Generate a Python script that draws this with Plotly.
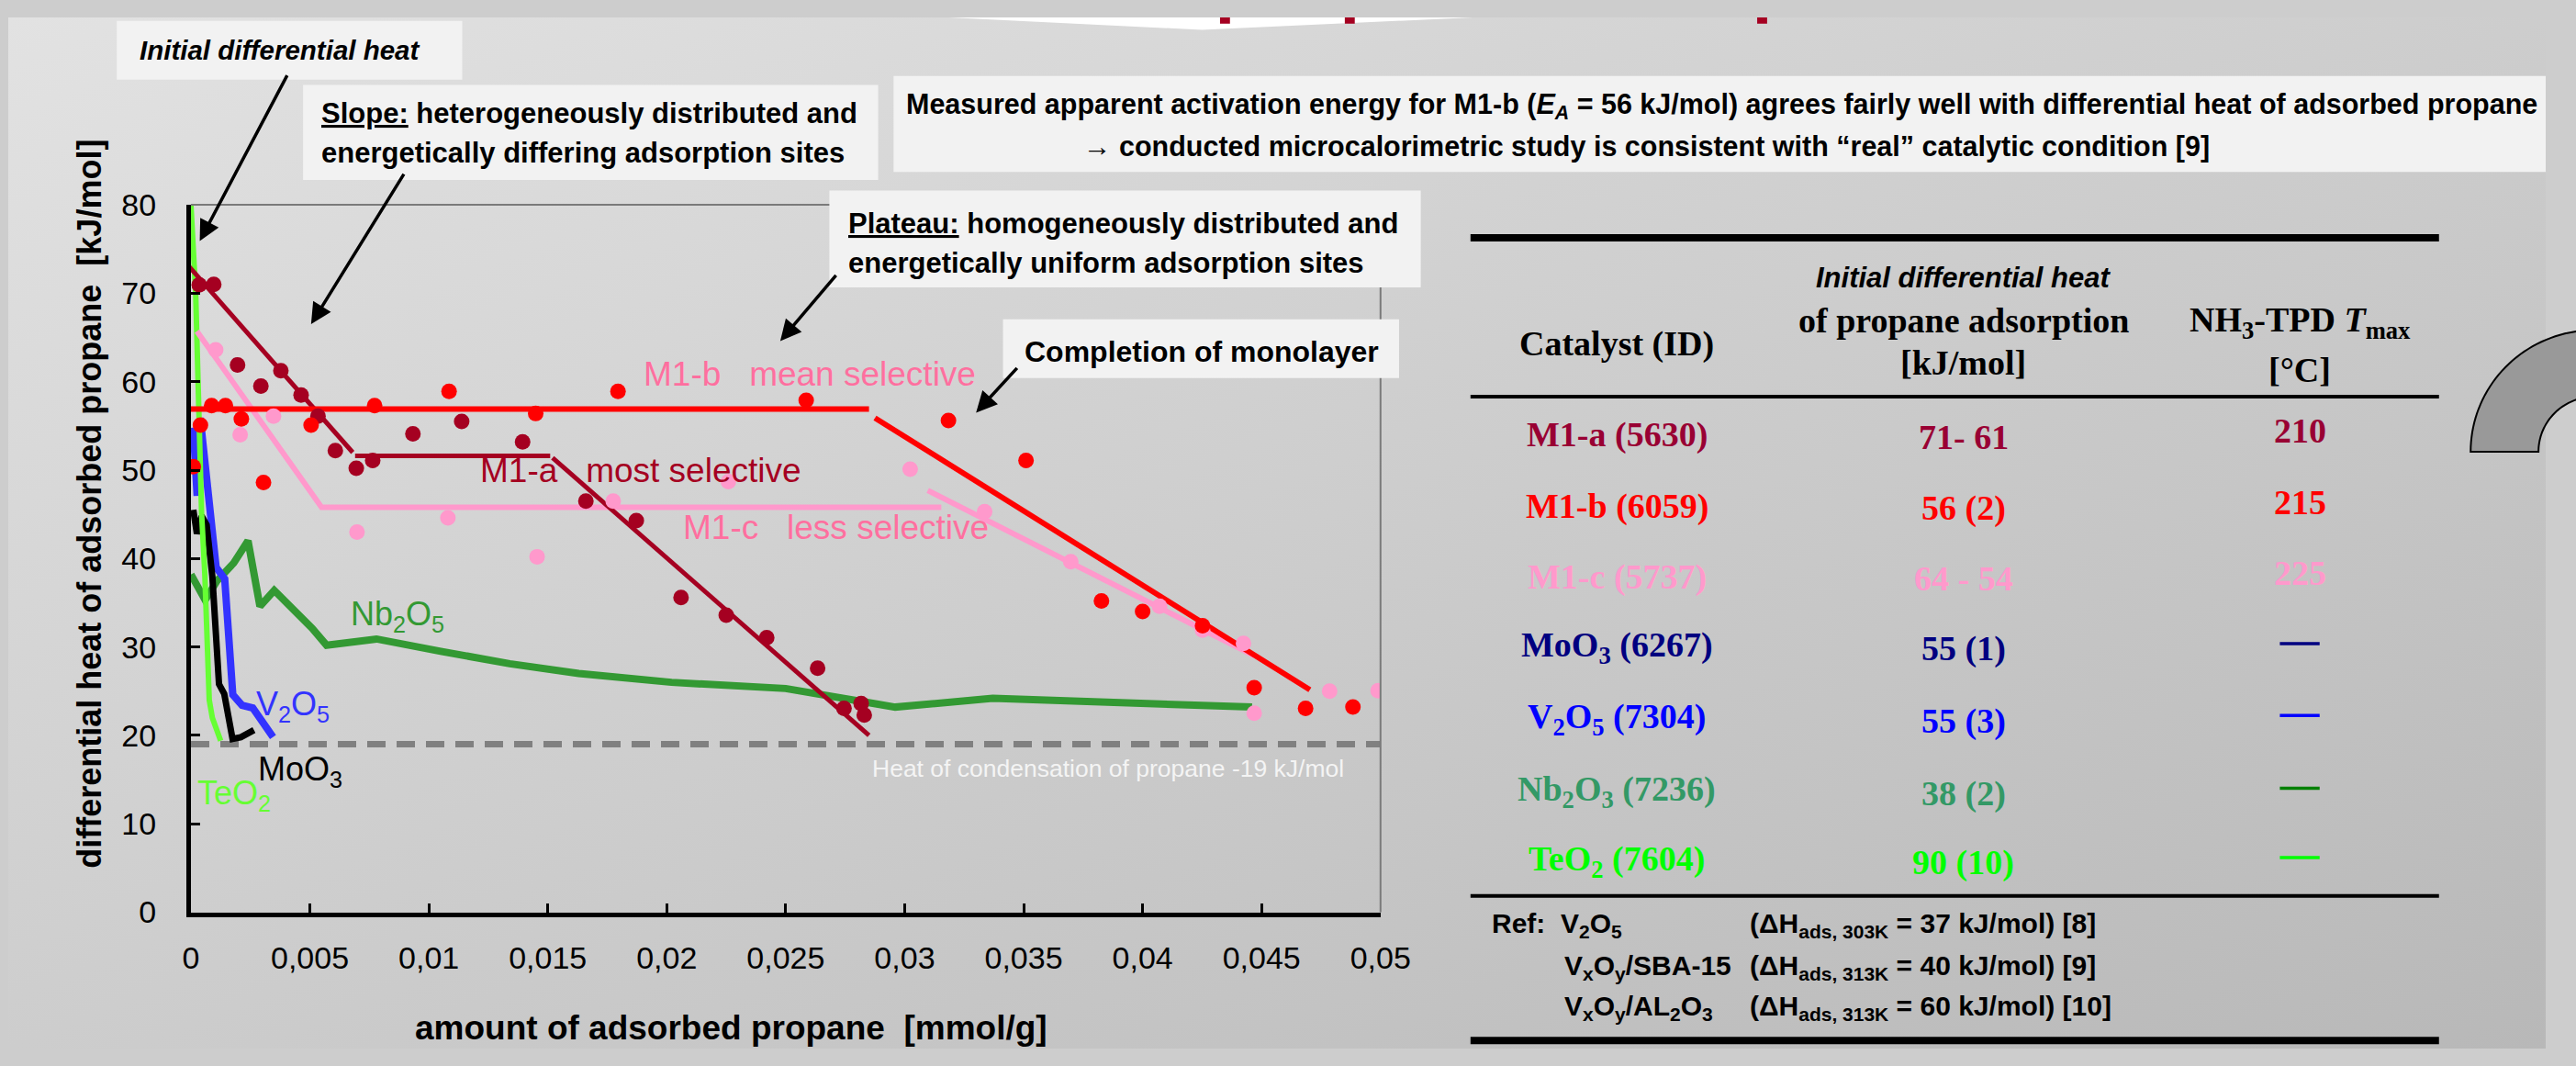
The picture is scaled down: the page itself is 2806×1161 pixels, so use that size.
import base64
import numpy as np
import plotly.graph_objects as go

W, H = 2806, 1161

# ---------------- data ----------------
x_tick_vals = [0, 0.005, 0.01, 0.015, 0.02, 0.025, 0.03, 0.035, 0.04, 0.045, 0.05]
x_tick_text = ["0", "0,005", "0,01", "0,015", "0,02", "0,025", "0,03", "0,035", "0,04", "0,045", "0,05"]
y_tick_vals = [0, 10, 20, 30, 40, 50, 60, 70, 80]

# M1-a (most selective) measured points
m1a_x = [0.00035, 0.00096, 0.00196, 0.00294, 0.00378, 0.00463, 0.00534, 0.00607, 0.00695, 0.00764,
         0.00933, 0.01138, 0.01394, 0.0166, 0.01872, 0.0206, 0.0225, 0.0242, 0.02634, 0.02745,
         0.02817, 0.0283]
m1a_y = [70.95, 71.0, 61.9, 59.5, 61.25, 58.5, 56.1, 52.2, 50.2, 51.1,
         54.1, 55.5, 53.2, 46.5, 44.3, 35.6, 33.6, 31.05, 27.6, 23.05,
         23.6, 22.3]
# M1-a trend segments
m1a_fit_x = [-0.0005, 0.0068, None, 0.0069, 0.0151, None, 0.0152, 0.0285]
m1a_fit_y = [74.3, 52.0, None, 51.6, 51.6, None, 51.4, 20.0]

# M1-b (mean selective)
m1b_x = [0.0001, 0.0004, 0.00087, 0.00145, 0.00212, 0.00305, 0.00505, 0.00772, 0.01085, 0.01449,
         0.01795, 0.02586, 0.03184, 0.0351, 0.03827, 0.04, 0.04252, 0.04469, 0.04685, 0.04884]
m1b_y = [50.4, 55.1, 57.3, 57.3, 55.8, 48.6, 55.1, 57.3, 58.9, 56.4,
         58.9, 57.9, 55.6, 51.1, 35.2, 34.0, 32.4, 25.4, 23.05, 23.2]
m1b_fit_x = [0.0, 0.0285, None, 0.02875, 0.04703]
m1b_fit_y = [56.9, 56.9, None, 55.9, 25.15]

# M1-c (less selective)
m1c_x = [0.00104, 0.00207, 0.00347, 0.00698, 0.0108, 0.01455, 0.01775, 0.02259, 0.03023, 0.03336,
         0.03698, 0.04071, 0.04252, 0.04424, 0.04469, 0.04786, 0.0499]
m1c_y = [63.6, 54.0, 56.1, 43.0, 44.6, 40.2, 46.5, 48.7, 50.1, 45.3,
         39.65, 34.6, 31.9, 30.4, 22.5, 25.0, 25.05]
m1c_fit_x = [0.00025, 0.00549, 0.03154, None, 0.03097, 0.0447]
m1c_fit_y = [65.7, 45.8, 45.8, None, 47.7, 29.0]

# reference oxides (continuous curves)
nb2o5_x = [0.0, 0.0006, 0.0011, 0.0018, 0.0024, 0.0029, 0.0035, 0.0044, 0.0051, 0.0057,
           0.0078, 0.0105, 0.0134, 0.0163, 0.0202, 0.025, 0.0268, 0.0296, 0.0337, 0.0446]
nb2o5_y = [38.2, 35.3, 37.5, 39.5, 42.0, 34.6, 36.4, 34.0, 32.1, 30.2,
           30.9, 29.5, 28.1, 27.0, 26.0, 25.3, 24.4, 23.2, 24.2, 23.2]

v2o5_x = [0.0001, 0.00026, 0.00039, 0.00053, 0.00075, 0.00106, 0.00142, 0.00176, 0.00215, 0.0026, 0.00345]
v2o5_y = [54.8, 47.1, 55.9, 52.0, 45.8, 39.0, 37.7, 24.6, 23.4, 23.1, 19.8]

moo3_x = [0.0001, 0.00025, 0.00045, 0.00066, 0.0009, 0.00118, 0.0014, 0.00175, 0.0021, 0.00265]
moo3_y = [45.5, 42.8, 44.8, 43.8, 38.0, 25.8, 24.7, 19.6, 19.8, 20.6]

teo2_x = [0.0, 0.0002, 0.0003, 0.00045, 0.00058, 0.0007, 0.00077, 0.0009, 0.00106, 0.00125]
teo2_y = [80.0, 70.0, 60.0, 45.0, 38.5, 30.0, 24.0, 22.0, 20.7, 19.4]

condensation_heat = 19  # kJ/mol

# table
table_catalysts = ["M1-a (5630)", "M1-b (6059)", "M1-c (5737)", "MoO<sub>3</sub> (6267)",
                   "V<sub>2</sub>O<sub>5</sub> (7304)", "Nb<sub>2</sub>O<sub>3</sub> (7236)",
                   "TeO<sub>2</sub> (7604)"]
table_heat = ["71- 61", "56 (2)", "64 - 54", "55 (1)", "55 (3)", "38 (2)", "90 (10)"]
table_tmax = ["210", "215", "225", "", "", "", ""]
table_colors = ["#990033", "#ff0000", "#ff99cc", "#000080", "#0000ff", "#339966", "#00ff00"]
table_dash_colors = [None, None, None, "#000080", "#0000ff", "#008000", "#00ff00"]
ref_names = ["Ref:\u00a0 V<sub>2</sub>O<sub>5</sub>", "V<sub>x</sub>O<sub>y</sub>/SBA-15",
             "V<sub>x</sub>O<sub>y</sub>/AL<sub>2</sub>O<sub>3</sub>"]
ref_values = ["(ΔH<sub>ads, 303K</sub> = 37 kJ/mol) [8]", "(ΔH<sub>ads, 313K</sub> = 40 kJ/mol) [9]",
              "(ΔH<sub>ads, 313K</sub> = 60 kJ/mol) [10]"]

# ---------------- helpers ----------------
def px(x):
    return x / W


def py(y):
    return 1 - y / H


NARROW = "Liberation Sans Narrow, Arial Narrow, Liberation Sans, Arial, sans-serif"
ARIAL = "Liberation Sans, Arial, sans-serif"
SERIF = "Liberation Serif, Times New Roman, serif"

fig = go.Figure()


def line_trace(x, y, color, width):
    fig.add_trace(go.Scatter(x=x, y=y, mode="lines", line=dict(color=color, width=width),
                             hoverinfo="skip", showlegend=False, connectgaps=False))


def dot_trace(x, y, color):
    fig.add_trace(go.Scatter(x=x, y=y, mode="markers", marker=dict(color=color, size=17),
                             hoverinfo="skip", showlegend=False))


# condensation line
fig.add_trace(go.Scatter(x=[0, 0.05], y=[condensation_heat, condensation_heat], mode="lines",
                         line=dict(color="#808080", width=7, dash="20px,12px"),
                         hoverinfo="skip", showlegend=False))

line_trace(nb2o5_x, nb2o5_y, "#339933", 8)
line_trace(v2o5_x, v2o5_y, "#3333ff", 8)
line_trace(moo3_x, moo3_y, "#000000", 7)
line_trace(teo2_x, teo2_y, "#66ff33", 6)

line_trace(m1c_fit_x, m1c_fit_y, "#ff99cc", 6)
line_trace(m1a_fit_x, m1a_fit_y, "#a50021", 5)
line_trace(m1b_fit_x, m1b_fit_y, "#ff0000", 6)

dot_trace(m1c_x, m1c_y, "#ff99cc")
dot_trace(m1a_x, m1a_y, "#a50021")
dot_trace(m1b_x, m1b_y, "#ff0000")

annotations = []
shapes = []


def data_label(text, x, y, color, size=37, family=ARIAL):
    annotations.append(dict(text=text, x=x, y=y, xref="x", yref="y", showarrow=False,
                            font=dict(family=family, size=size, color=color),
                            xanchor="center", yanchor="middle"))


data_label("M1-a\u00a0\u00a0 most selective", 0.01889, 50.0, "#a50021")
data_label("M1-b\u00a0\u00a0 mean selective", 0.0260, 60.9, "#ff6f9f")
data_label("M1-c\u00a0\u00a0 less selective", 0.0271, 43.5, "#ff6f9f")
data_label("Nb<sub>2</sub>O<sub>5</sub>", 0.00867, 33.5, "#339933", 36)
data_label("V<sub>2</sub>O<sub>5</sub>", 0.0043, 23.3, "#3333ff", 36)
data_label("MoO<sub>3</sub>", 0.0046, 15.9, "#000000", 36)
data_label("TeO<sub>2</sub>", 0.00182, 13.2, "#66ff33", 36)
data_label("Heat of condensation of propane -19 kJ/mol", 0.03854, 16.3, "#f4f4f4", 26.5, NARROW)


def paper_text(text, x, y, size, color="#000000", family=NARROW, xanchor="left", bold=True, italic=False):
    annotations.append(dict(text=text, x=px(x), y=py(y), xref="paper", yref="paper", showarrow=False,
                            font=dict(family=family, size=size, color=color,
                                      weight="bold" if bold else "normal",
                                      style="italic" if italic else "normal"),
                            xanchor=xanchor, yanchor="middle", align="left"))


def box(x0, y0, x1, y1, color="#f2f2f2"):
    shapes.append(dict(type="rect", xref="paper", yref="paper", x0=px(x0), x1=px(x1),
                       y0=py(y0), y1=py(y1), fillcolor=color, line=dict(width=0), layer="above"))


def hline(x0, x1, y, width, color="#000000"):
    shapes.append(dict(type="line", xref="paper", yref="paper", x0=px(x0), x1=px(x1),
                       y0=py(y), y1=py(y), line=dict(color=color, width=width), layer="above"))


def vline(x, y0, y1, width, color="#000000"):
    shapes.append(dict(type="line", xref="paper", yref="paper", x0=px(x), x1=px(x),
                       y0=py(y0), y1=py(y1), line=dict(color=color, width=width), layer="above"))


# plot frame (thin top/right)
hline(202, 1517.5, 211, 2, "#7a7a7a")
vline(1517.5, 211, 1007.5, 2, "#7a7a7a")


# top decoration (banner tip and clipped title)
def poly(points, fill, line_color=None, lw=0):
    path = "M " + " L ".join(f"{px(a):.5f},{py(b):.5f}" for a, b in points) + " Z"
    shapes.append(dict(type="path", xref="paper", yref="paper", path=path, fillcolor=fill,
                       line=dict(color=line_color or fill, width=lw), layer="above"))


poly([(1040, 0), (1320, 14), (1620, 0)], "#ffffff")
for xm in (1340, 1478, 1934):
    poly([(xm, 0), (xm + 11, 0), (xm + 11, 7), (xm, 7)], "#a50021")

# gray arc on the right border
cx, cy, ro, ri = 2860, 489, 137, 62
th = np.linspace(np.pi, np.pi / 2, 40)
outer = [(cx + ro * np.cos(t), cy - ro * np.sin(t)) for t in th]
inner = [(cx + ri * np.cos(t), cy - ri * np.sin(t)) for t in th[::-1]]
poly(outer + inner, "#999999", "#000000", 2)

# annotation boxes
box(120, 4, 502, 70)
box(326, 76, 962, 183)
box(908, 195, 1562, 304)
box(1100, 340, 1538, 406)
box(979, 66, 2806, 174)

paper_text("Initial differential heat", 143, 37, 29.5, italic=True)
paper_text("<u>Slope:</u> heterogeneously distributed and", 344, 108, 31)
paper_text("energetically differing adsorption sites", 344, 153, 31)
paper_text("<u>Plateau:</u> homogeneously distributed and", 927, 232, 31)
paper_text("energetically uniform adsorption sites", 927, 277, 31)
paper_text("Completion of monolayer", 1122, 376, 32)
paper_text("Measured apparent activation energy for M1-b (<i>E</i><sub><i>A</i></sub> = 56 kJ/mol) agrees fairly well "
           "with differential heat of adsorbed propane", 1895, 100, 30.5, xanchor="center")
paper_text("→ conducted microcalorimetric study is consistent with “real” catalytic condition [9]",
           1812, 145, 30.5, xanchor="center")

# arrows (tip in data coords, tail offset in pixels)
for tx, ty, axp, ayp in [(0.00037, 75.9, 96, -182), (0.00505, 66.5, 102, -165),
                         (0.02477, 64.6, 62, -73), (0.033, 56.5, 46, -50)]:
    annotations.append(dict(x=tx, y=ty, xref="x", yref="y", text="", showarrow=True,
                            ax=axp, ay=ayp, arrowhead=2, arrowsize=1.3, arrowwidth=3.5,
                            arrowcolor="#000000", standoff=0))

# axis titles
annotations.append(dict(text="differential heat of adsorbed propane\u00a0 [kJ/mol]", x=px(89), y=py(548),
                        xref="paper", yref="paper", showarrow=False, textangle=-90,
                        font=dict(family=ARIAL, size=36, color="#000000", weight="bold"),
                        xanchor="center", yanchor="middle"))
annotations.append(dict(text="amount of adsorbed propane\u00a0 [mmol/g]", x=px(799), y=py(1138),
                        xref="paper", yref="paper", showarrow=False,
                        font=dict(family=ARIAL, size=37, color="#000000", weight="bold"),
                        xanchor="center", yanchor="middle"))

# ---------------- table ----------------
T_X0, T_X1 = 1617, 2688
hline(T_X0, T_X1, 248, 8)
hline(T_X0, T_X1, 427, 4)
hline(T_X0, T_X1, 989, 4)
hline(T_X0, T_X1, 1152, 8)

COL1, COL2, COL3 = 1779, 2162, 2534
paper_text("Catalyst (ID)", COL1, 368, 38, family=SERIF, xanchor="center")
paper_text("Initial differential heat", COL2, 293, 31, italic=True, xanchor="center")
paper_text("of propane adsorption", COL2, 341, 38, family=SERIF, xanchor="center")
paper_text("[kJ/mol]", COL2, 389, 38, family=SERIF, xanchor="center")
paper_text("NH<sub>3</sub>-TPD <i>T</i><sub>max</sub>", COL3, 343, 38, family=SERIF, xanchor="center")
paper_text("[°C]", COL3, 397, 38, family=SERIF, xanchor="center")

row_y = [470, 551, 630, 709, 790, 872, 950]
for i, name in enumerate(table_catalysts):
    paper_text(name, COL1, row_y[i], 38, color=table_colors[i], family=SERIF, xanchor="center")
    paper_text(table_heat[i], COL2, row_y[i] + 2, 38, color=table_colors[i], family=SERIF, xanchor="center")
    if table_tmax[i]:
        paper_text(table_tmax[i], COL3, row_y[i] - 5, 38, color=table_colors[i], family=SERIF, xanchor="center")
    if table_dash_colors[i]:
        hline(COL3 - 22, COL3 + 22, row_y[i] - 4, 3.5, table_dash_colors[i])

ref_y = [1022, 1069, 1115]
ref_name_x = [1639, 1719, 1719]
for i in range(3):
    paper_text(ref_names[i], ref_name_x[i], ref_y[i], 30)
    paper_text(ref_values[i], 1924, ref_y[i], 30)

# ---------------- background gradient ----------------
svg = ('<svg xmlns="http://www.w3.org/2000/svg" width="2806" height="1161">'
       '<defs><linearGradient id="g" x1="0" y1="0" x2="1" y2="1">'
       '<stop offset="0" stop-color="#e2e2e2"/><stop offset="1" stop-color="#b8b8b8"/>'
       '</linearGradient></defs><rect width="2806" height="1161" fill="url(#g)"/></svg>')
bg_src = "data:image/svg+xml;base64," + base64.b64encode(svg.encode()).decode()

fig.update_layout(
    width=W, height=H,
    margin=dict(l=0, r=0, t=0, b=0),
    paper_bgcolor="#cdcdcd",
    plot_bgcolor="rgba(0,0,0,0)",
    showlegend=False,
    images=[dict(source=bg_src, xref="paper", yref="paper", x=0, y=1, sizex=1, sizey=1,
                 sizing="stretch", layer="below", xanchor="left", yanchor="top")],
    xaxis=dict(domain=[202 / W, 1517.5 / W], range=[0, 0.05], tickvals=x_tick_vals, ticktext=x_tick_text,
               showline=True, linecolor="#000000", linewidth=5, ticks="inside", ticklen=10, tickwidth=3,
               tickcolor="#000000", showgrid=False, zeroline=False, ticklabelstandoff=16,
               tickfont=dict(family=NARROW, size=34, color="#000000")),
    yaxis=dict(domain=[1 - 1007.5 / H, 1 - 211 / H], range=[0, 80], tickvals=y_tick_vals,
               showline=True, linecolor="#000000", linewidth=5, ticks="inside", ticklen=10, tickwidth=3,
               tickcolor="#000000", showgrid=False, zeroline=False, ticklabelstandoff=26,
               tickfont=dict(family=NARROW, size=34, color="#000000")),
    annotations=annotations,
    shapes=shapes,
)

fig.write_html("out.html", config={"displayModeBar": False},
               post_script="document.body.style.margin='0';document.body.style.overflow='hidden';")
